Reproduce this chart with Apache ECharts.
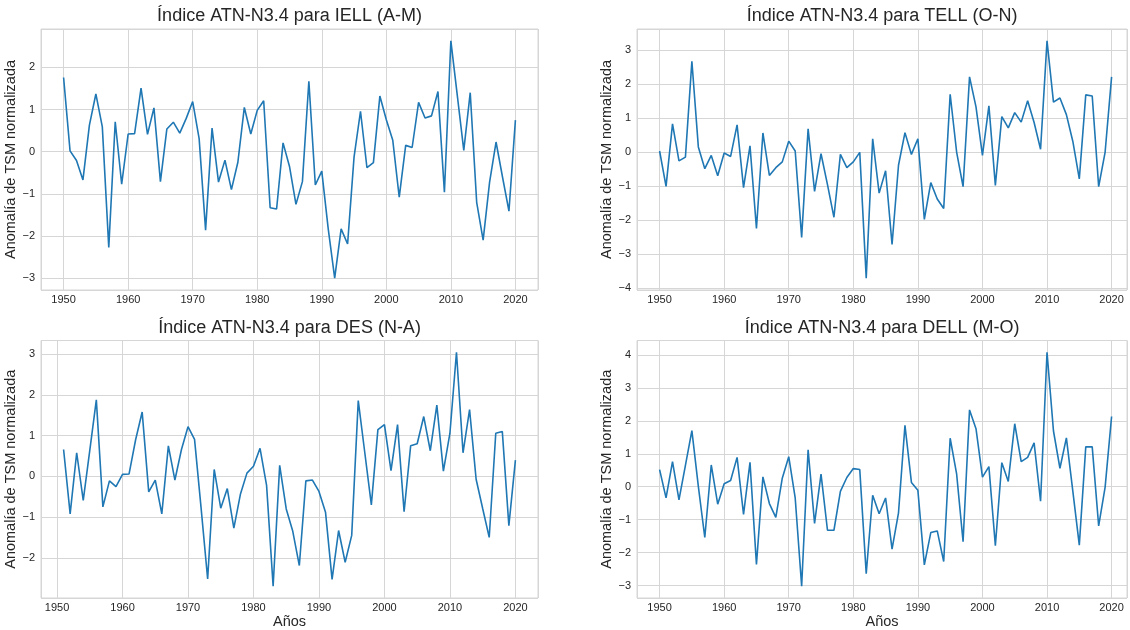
<!DOCTYPE html>
<html>
<head>
<meta charset="utf-8">
<script src="https://cdn.jsdelivr.net/npm/echarts@6/dist/echarts.min.js"></script>
<style>
html,body{margin:0;padding:0;background:#fff;}
#chart{width:1130px;height:630px;}
</style>
</head>
<body>
<div id="chart"></div>
<script>
const years = [1950,1951,1952,1953,1954,1955,1956,1957,1958,1959,
  1960,1961,1962,1963,1964,1965,1966,1967,1968,1969,
  1970,1971,1972,1973,1974,1975,1976,1977,1978,1979,
  1980,1981,1982,1983,1984,1985,1986,1987,1988,1989,
  1990,1991,1992,1993,1994,1995,1996,1997,1998,1999,
  2000,2001,2002,2003,2004,2005,2006,2007,2008,2009,
  2010,2011,2012,2013,2014,2015,2016,2017,2018,2019,2020];
const yearsDES = years.slice(1);

const titles = ["Índice ATN-N3.4 para IELL (A-M)", "Índice ATN-N3.4 para TELL (O-N)",
                "Índice ATN-N3.4 para DES (N-A)", "Índice ATN-N3.4 para DELL (M-O)"];
const yLabel = "Anomalía de TSM normalizada";
const xLabel = "Años";

const iell = [1.76,0.02,-0.21,-0.67,0.63,1.37,0.59,-2.27,0.71,-0.77,
  0.42,0.43,1.51,0.41,1.04,-0.71,0.54,0.70,0.44,0.79,
  1.19,0.31,-1.86,0.56,-0.72,-0.20,-0.90,-0.25,1.05,0.42,
  0.98,1.21,-1.33,-1.36,0.21,-0.35,-1.25,-0.71,1.67,-0.79,
  -0.46,-1.83,-3.00,-1.83,-2.19,-0.13,0.96,-0.38,-0.26,1.32,
  0.76,0.27,-1.08,0.15,0.10,1.17,0.80,0.85,1.43,-0.96,
  2.63,1.33,0.03,1.40,-1.20,-2.10,-0.72,0.23,-0.60,-1.41,0.75];

const tell = [0.03,-1.01,0.83,-0.26,-0.15,2.67,0.15,-0.49,-0.10,-0.70,
  -0.03,-0.13,0.80,-1.05,0.18,-2.25,0.56,-0.69,-0.46,-0.29,
  0.32,0.03,-2.51,0.68,-1.16,-0.05,-0.96,-1.92,-0.07,-0.46,
  -0.29,-0.01,-3.71,0.39,-1.21,-0.55,-2.72,-0.39,0.57,-0.07,
  0.39,-1.98,-0.90,-1.38,-1.66,1.70,0.00,-1.02,2.21,1.33,
  -0.10,1.36,-0.98,1.04,0.71,1.16,0.88,1.51,0.87,0.08,
  3.27,1.47,1.59,1.10,0.31,-0.79,1.68,1.65,-1.02,0.00,2.21];

const des = [0.66,-0.92,0.58,-0.59,0.64,1.88,-0.75,-0.11,-0.25,
  0.05,0.06,0.90,1.58,-0.38,-0.09,-0.92,0.75,-0.09,0.66,
  1.22,0.91,-0.78,-2.52,0.17,-0.78,-0.30,-1.27,-0.44,0.08,
  0.25,0.69,-0.22,-2.70,0.27,-0.80,-1.35,-2.19,-0.11,-0.09,
  -0.37,-0.88,-2.53,-1.33,-2.11,-1.45,1.86,0.58,-0.70,1.15,
  1.27,0.14,1.27,-0.87,0.75,0.80,1.47,0.63,1.75,0.13,
  1.06,3.05,0.58,1.64,-0.07,-0.79,-1.50,1.06,1.10,-1.21,0.40];

const dell = [0.52,-0.34,0.76,-0.40,0.65,1.70,0.01,-1.54,0.66,-0.53,
  0.09,0.19,0.89,-0.84,0.74,-2.36,0.30,-0.51,-0.93,0.26,
  0.91,-0.34,-3.02,1.12,-1.11,0.38,-1.32,-1.32,-0.14,0.28,
  0.55,0.52,-2.64,-0.26,-0.82,-0.34,-1.89,-0.79,1.86,0.13,
  -0.11,-2.37,-1.39,-1.34,-2.27,1.47,0.39,-1.67,2.33,1.76,
  0.29,0.61,-1.79,0.73,0.16,1.91,0.76,0.89,1.33,-0.44,
  4.08,1.69,0.56,1.48,-0.14,-1.77,1.21,1.21,-1.19,-0.01,2.13];

const panels = [
  {x: years, y: iell},
  {x: years, y: tell},
  {x: yearsDES, y: des},
  {x: years, y: dell}
];

const FONT = '"Liberation Sans", Arial, sans-serif';
const TXT = '#262626';
const GRIDC = '#d6d6d6';
const grids = [
  {left: 41, top: 29, width: 497, height: 261},
  {left: 637, top: 29, width: 490, height: 261},
  {left: 41, top: 340.5, width: 497, height: 261},
  {left: 637, top: 340.5, width: 490, height: 261}
];

function pad(arr) {
  const mn = Math.min(...arr), mx = Math.max(...arr), m = (mx - mn) * 0.05;
  return [mn - m, mx + m];
}
function fmtNum(v) {
  return v < 0 ? '\u2212' + Math.abs(v) : String(v);
}

const xAxis = [], yAxis = [], series = [], graphic = [];
panels.forEach((p, i) => {
  const xr = pad(p.x), yr = pad(p.y);
  const g = grids[i];
  xAxis.push({
    type: 'value', gridIndex: i, min: xr[0], max: (i === 1 || i === 3) ? xr[0] + 490 / 6.457 : xr[1],
    minInterval: 10, maxInterval: 10,
    axisLine: {show: false}, axisTick: {show: false},
    axisLabel: {color: TXT, fontSize: 11, fontFamily: FONT, margin: 4,
      formatter: v => (Math.abs(v % 10) < 1e-6 ? String(Math.round(v)) : '')},
    splitLine: {show: true, lineStyle: {color: GRIDC, width: 1}},
    name: i >= 2 ? xLabel : '', nameLocation: 'middle', nameGap: 16,
    nameTextStyle: {color: TXT, fontSize: 14.5, fontFamily: FONT}
  });
  yAxis.push({
    type: 'value', gridIndex: i, min: yr[0], max: yr[1],
    minInterval: 1, maxInterval: 1,
    axisLine: {show: false}, axisTick: {show: false},
    axisLabel: {color: TXT, fontSize: 11, fontFamily: FONT, margin: 6,
      formatter: v => (Math.abs(v - Math.round(v)) < 1e-6 ? fmtNum(Math.round(v)) : '')},
    splitLine: {show: true, lineStyle: {color: GRIDC, width: 1}},
    name: yLabel, nameLocation: 'middle', nameRotate: 90, nameGap: 18,
    nameTextStyle: {color: TXT, fontSize: 14.5, fontFamily: FONT}
  });
  series.push({
    type: 'line', xAxisIndex: i, yAxisIndex: i,
    data: p.x.map((yr_, k) => [yr_, p.y[k]]),
    showSymbol: false, symbol: 'none',
    lineStyle: {color: '#1f77b4', width: 1.6},
    itemStyle: {color: '#1f77b4'},
    animation: false
  });
  graphic.push({
    type: 'text', x: g.left + g.width / 2, y: (i < 2 ? 16.5 : 328.5),
    style: {text: titles[i], font: '18px ' + FONT, fill: TXT,
      align: 'center', verticalAlign: 'middle', textAlign: 'center', textVerticalAlign: 'middle'}
  });
});

const chart = echarts.init(document.getElementById('chart'), null, {renderer: 'canvas'});
chart.setOption({
  backgroundColor: '#ffffff',
  animation: false,
  grid: grids.map(g => Object.assign({show: true, borderColor: GRIDC, borderWidth: 1, backgroundColor: '#fff'}, g)),
  xAxis, yAxis, series, graphic
});
</script>
</body>
</html>
